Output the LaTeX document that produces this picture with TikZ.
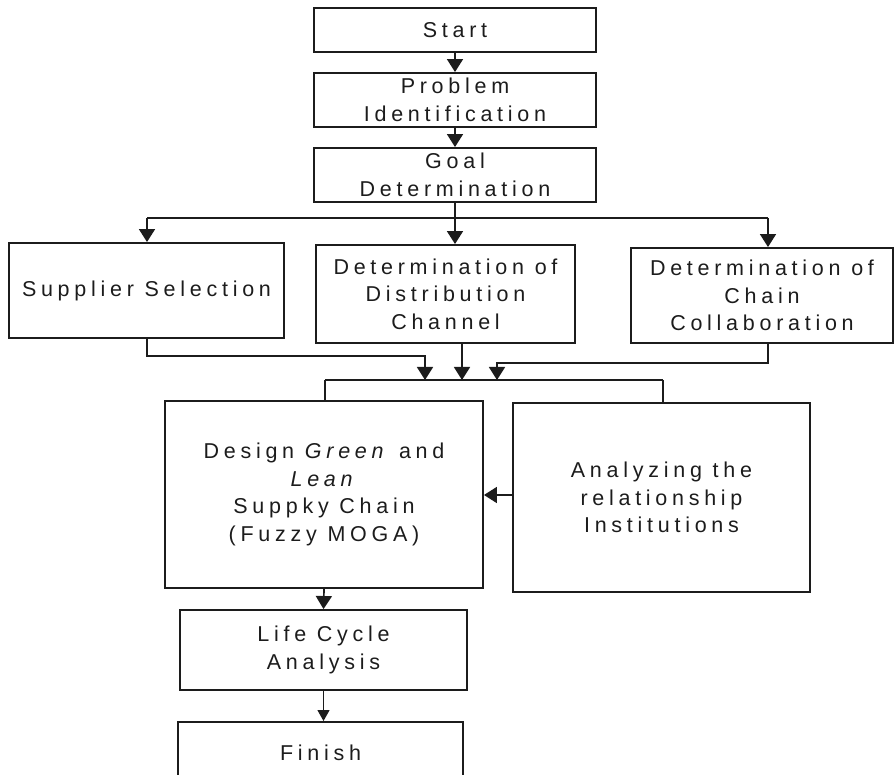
\documentclass[tikz,border=0pt]{standalone}
\usepackage{fontspec}
\setmainfont{Liberation Sans}[LetterSpace=22]
\usetikzlibrary{arrows.meta}
\definecolor{ink}{HTML}{1c1c1c}
\definecolor{head}{HTML}{2e2e2e}
\tikzset{
  box/.style={draw=ink, line width=1.9pt, rectangle, inner sep=0pt, align=center,
    font=\fontsize{21.5}{27.5}\selectfont, text=ink},
  conn/.style={draw=ink, line width=1.7pt, -{Triangle[width=16pt,length=13pt]}},
  thin/.style={draw=ink, line width=0.9pt, -{Triangle[width=12pt,length=11pt]}},
  plain/.style={draw=ink, line width=1.7pt}
}
\begin{document}
\begin{tikzpicture}[x=1pt,y=-1pt]
\useasboundingbox (0,0) rectangle (895,775);
\clip (0,0) rectangle (895,775);
% nodes
\node[box, minimum width=282pt, minimum height=44pt] (start) at (455,30) {Start};
\node[box, minimum width=282pt, minimum height=54pt] (prob) at (455,100) {Problem\\Identification};
\node[box, minimum width=282pt, minimum height=54pt] (goal) at (455,175) {Goal\\Determination};
\node[box, minimum width=275pt, minimum height=95pt] (sup) at (146.5,290.5) {Supplier Selection};
\node[box, minimum width=259pt, minimum height=98pt] (dist) at (445.5,294) {Determination of\\Distribution\\Channel};
\node[box, minimum width=262pt, minimum height=95pt] (chain) at (762,295.5) {Determination of\\Chain\\Collaboration};
\node[box, minimum width=318pt, minimum height=187pt] (design) at (324,494.5) {Design \textit{Green} and\\\textit{Lean}\\Suppky Chain\\(Fuzzy MOGA)};
\node[box, minimum width=297pt, minimum height=189pt] (anal) at (661.5,497.5) {Analyzing the\\relationship\\Institutions};
\node[box, minimum width=287pt, minimum height=80pt] (life) at (323.5,650) {Life Cycle\\Analysis};
\node[box, minimum width=285pt, minimum height=62pt] (finish) at (320.5,753) {Finish};
% coordinates
\coordinate (bl) at (147,218);
\coordinate (br) at (768,218);
\coordinate (ml) at (325,380);
\coordinate (mr) at (663,380);
\coordinate (a1) at (425,380);
\coordinate (a2) at (462,380);
\coordinate (a3) at (497,380);
% top chain
\draw[conn] (start.south) -- (prob.north);
\draw[conn] (prob.south) -- (goal.north);
\draw[plain] (bl) -- (br);
\draw[conn] (goal.south) -- (goal.south |- dist.north);
\draw[conn] (bl) -- (bl |- sup.north);
\draw[conn] (br) -- (br |- chain.north);
% merge
\draw[plain] (ml) -- (mr);
\draw[plain] (ml) -- (ml |- design.north);
\draw[plain] (mr) -- (mr |- anal.north);
\draw[conn] (bl |- sup.south) |- (425,356) -- (a1);
\draw[conn] (a2 |- dist.south) -- (a2);
\draw[conn] (br |- chain.south) |- (497,363) -- (a3);
% lower
\draw[conn] (anal.west |- 0,495) -- (design.east |- 0,495);
\draw[conn] (design.south) -- (life.north);
\draw[thin] (life.south) -- (life.south |- finish.north);
\end{tikzpicture}
\end{document}
